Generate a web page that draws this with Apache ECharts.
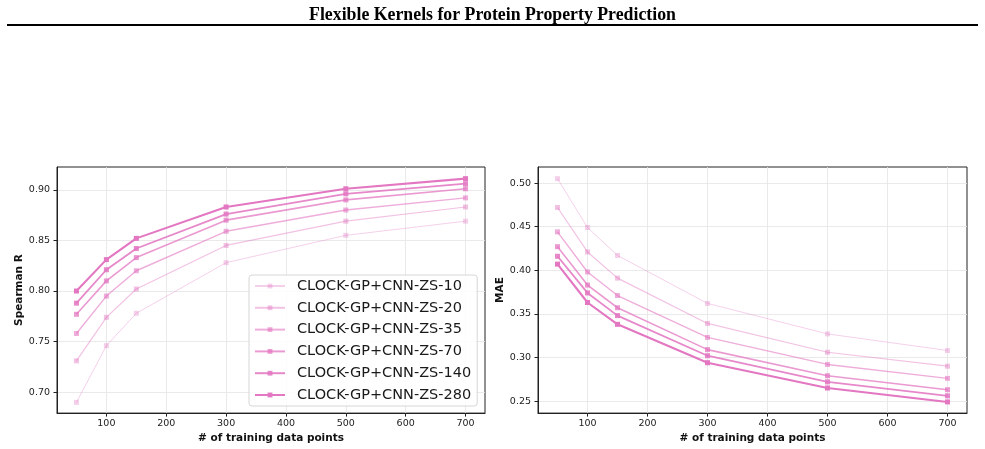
<!DOCTYPE html>
<html>
<head>
<meta charset="utf-8">
<script src="https://cdn.jsdelivr.net/npm/echarts@6/dist/echarts.min.js"></script>
<style>
  html, body { margin: 0; padding: 0; background: #fff; }
  #main { width: 985px; height: 449px; }
</style>
</head>
<body>
<div id="main"></div>
<script>
  // data
  var trainSizes = [50, 100, 150, 300, 500, 700];
  var seriesNames = ['CLOCK-GP+CNN-ZS-10', 'CLOCK-GP+CNN-ZS-20', 'CLOCK-GP+CNN-ZS-35',
                     'CLOCK-GP+CNN-ZS-70', 'CLOCK-GP+CNN-ZS-140', 'CLOCK-GP+CNN-ZS-280'];
  var spearman = [
    [0.690, 0.746, 0.778, 0.828, 0.855, 0.869],
    [0.731, 0.774, 0.802, 0.845, 0.869, 0.883],
    [0.758, 0.795, 0.820, 0.859, 0.880, 0.892],
    [0.777, 0.810, 0.833, 0.870, 0.890, 0.901],
    [0.788, 0.821, 0.842, 0.876, 0.896, 0.906],
    [0.800, 0.831, 0.852, 0.883, 0.901, 0.911]
  ];
  var mae = [
    [0.505, 0.449, 0.417, 0.362, 0.327, 0.308],
    [0.472, 0.421, 0.391, 0.339, 0.306, 0.290],
    [0.444, 0.398, 0.371, 0.323, 0.292, 0.276],
    [0.427, 0.383, 0.357, 0.309, 0.279, 0.263],
    [0.416, 0.374, 0.348, 0.302, 0.272, 0.256],
    [0.407, 0.363, 0.338, 0.294, 0.265, 0.249]
  ];
  var xTicks = [100, 200, 300, 400, 500, 600, 700];
  var spearmanTicks = [0.70, 0.75, 0.80, 0.85, 0.90];
  var maeTicks = [0.25, 0.30, 0.35, 0.40, 0.45, 0.50];

  var alphas = [0.35, 0.45, 0.6, 0.75, 0.88, 1];
  var widths = [1, 1.2, 1.4, 1.6, 1.8, 2.1];

  function pink(a) {
    return 'rgba(227,119,194,' + a + ')';
  }

  function xAxisFor(gridIndex) {
    return {
      type: 'value', gridIndex: gridIndex, min: 17.5, max: 732.5,
      name: '# of training data points', nameLocation: 'middle', nameGap: 16,
      nameTextStyle: { fontFamily: 'DejaVu Sans', fontWeight: 'bold', fontSize: 10.5, color: '#111' },
      axisLine: { show: true, lineStyle: { color: '#222', width: 1 } },
      axisTick: { show: true, length: 3.5, customValues: xTicks, lineStyle: { color: '#222' } },
      axisLabel: { customValues: xTicks, margin: 5, fontFamily: 'DejaVu Sans', fontSize: 9.5, color: '#222' },
      splitLine: { show: true, lineStyle: { color: '#e4e4e4', width: 0.8 } }
    };
  }

  function yAxisFor(gridIndex, name, min, max, ticks, gap) {
    return {
      type: 'value', gridIndex: gridIndex, min: min, max: max,
      name: name, nameLocation: 'middle', nameGap: gap,
      nameTextStyle: { fontFamily: 'DejaVu Sans', fontWeight: 'bold', fontSize: 10.5, color: '#111' },
      axisLine: { show: true, lineStyle: { color: '#222', width: 1 } },
      axisTick: { show: true, length: 3.5, customValues: ticks, lineStyle: { color: '#222' } },
      axisLabel: {
        customValues: ticks, margin: 7, fontFamily: 'DejaVu Sans', fontSize: 9.5, color: '#222',
        formatter: function (v) { return v.toFixed(2); }
      },
      splitLine: { show: true, lineStyle: { color: '#e4e4e4', width: 0.8 } }
    };
  }

  var series = [];
  function addPanel(values, gridIndex) {
    for (var i = 0; i < seriesNames.length; i++) {
      series.push({
        name: seriesNames[i],
        type: 'line',
        xAxisIndex: gridIndex,
        yAxisIndex: gridIndex,
        data: trainSizes.map(function (x, j) { return [x, values[i][j]]; }),
        symbol: 'rect',
        symbolSize: 5,
        showSymbol: true,
        color: pink(alphas[i]),
        lineStyle: { color: pink(alphas[i]), width: widths[i] },
        itemStyle: { color: pink(alphas[i]) },
        z: 2 + i
      });
    }
  }
  addPanel(spearman, 0);
  addPanel(mae, 1);

  var option = {
    backgroundColor: '#fff',
    animation: false,
    title: {
      text: 'Flexible Kernels for Protein Property Prediction',
      left: 'center', top: 1,
      textStyle: { fontFamily: 'Liberation Serif', fontWeight: 'bold', fontSize: 17.8, color: '#000' }
    },
    graphic: [{
      type: 'line',
      shape: { x1: 7, y1: 25, x2: 978, y2: 25 },
      style: { stroke: '#000', lineWidth: 2 }
    }],
    grid: [
      { left: 57, top: 167, width: 428, height: 248, show: true, borderColor: '#222', borderWidth: 1 },
      { left: 538, top: 167, width: 429, height: 248, show: true, borderColor: '#222', borderWidth: 1 }
    ],
    legend: {
      data: seriesNames,
      orient: 'vertical',
      left: 249, top: 275,
      padding: [3, 6, 3, 5],
      itemWidth: 30, itemHeight: 6, itemGap: 5.8,
      backgroundColor: 'rgba(255,255,255,0.85)',
      borderColor: '#d6d6d6', borderWidth: 1, borderRadius: 3,
      textStyle: { fontFamily: 'DejaVu Sans', fontSize: 14.5, color: '#1a1a1a', lineHeight: 16, padding: [0, 0, 0, 7] }
    },
    xAxis: [xAxisFor(0), xAxisFor(1)],
    yAxis: [
      yAxisFor(0, 'Spearman R', 0.6794, 0.9225, spearmanTicks, 28),
      yAxisFor(1, 'MAE', 0.2362, 0.5184, maeTicks, 29)
    ],
    series: series
  };

  var myChart = echarts.init(document.getElementById('main'));
  myChart.setOption(option);
</script>
</body>
</html>
